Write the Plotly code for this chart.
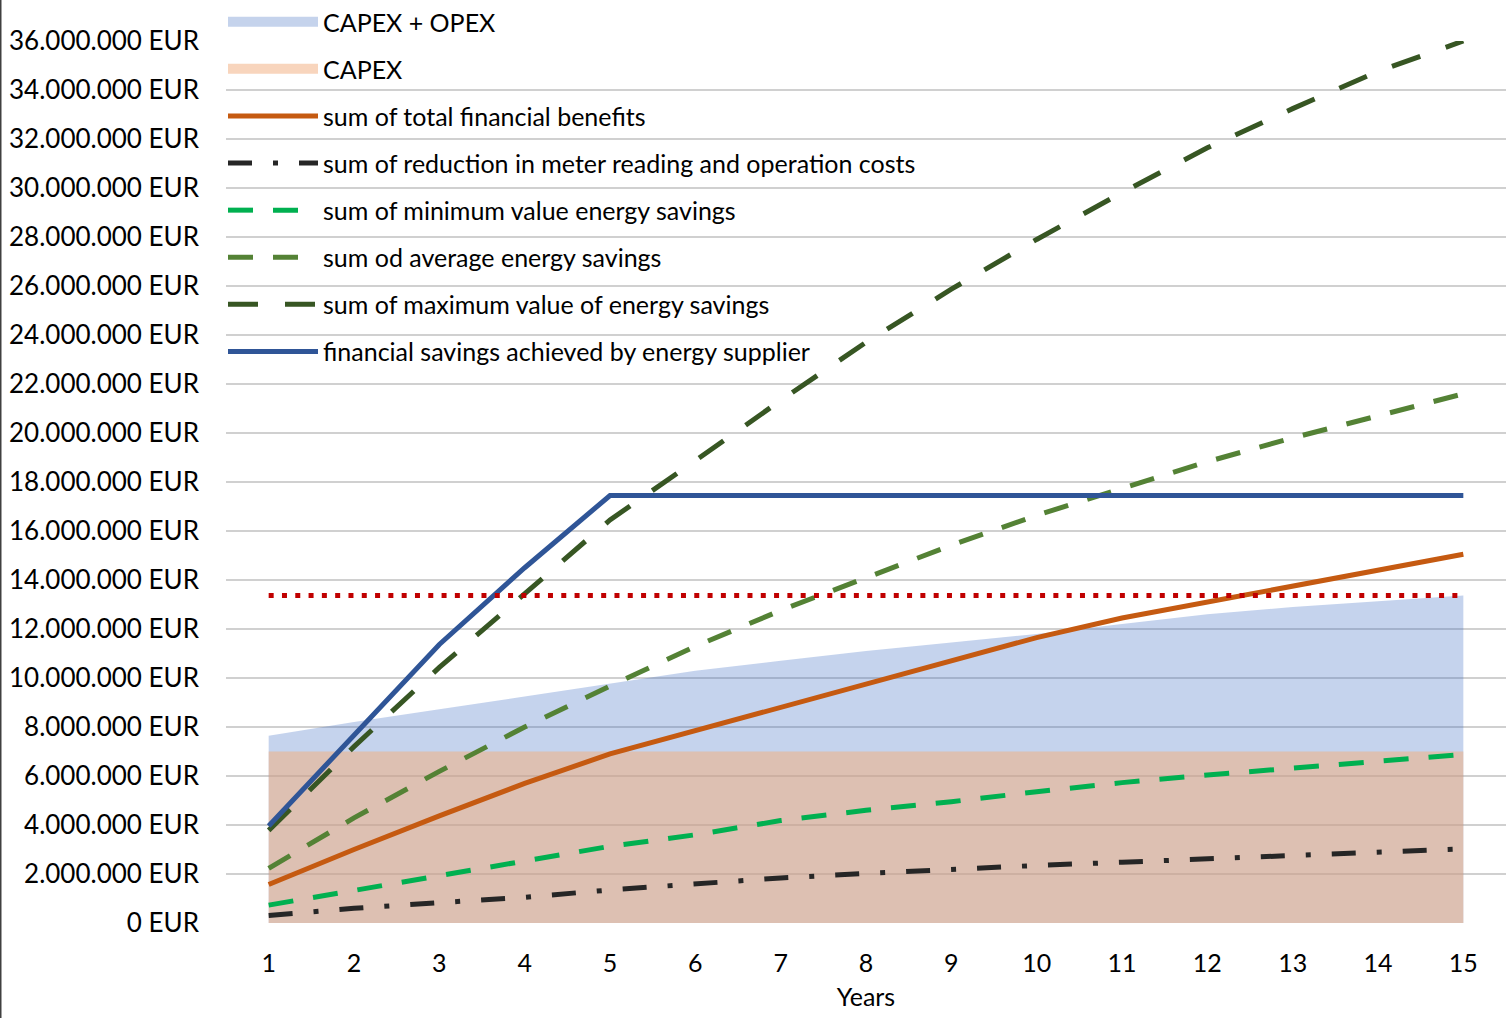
import plotly.graph_objects as go

years = list(range(1, 16))
capex_opex_m = [7.64, 8.2, 8.72, 9.25, 9.75, 10.3, 10.7, 11.1, 11.45, 11.8, 12.2, 12.6, 12.9, 13.15, 13.37]
capex_m = [7.0] * 15
total_benefits_m = [1.57, 3.0, 4.37, 5.7, 6.9, 7.85, 8.85, 9.75, 10.7, 11.65, 12.45, 13.1, 13.75, 14.4, 15.05]
meter_reduction_m = [0.31, 0.6, 0.83, 1.05, 1.35, 1.62, 1.84, 2.02, 2.2, 2.35, 2.48, 2.62, 2.76, 2.9, 3.03]
min_savings_m = [0.73, 1.33, 1.96, 2.54, 3.13, 3.6, 4.18, 4.6, 4.95, 5.36, 5.73, 6.04, 6.32, 6.62, 6.88]
avg_savings_m = [2.23, 4.29, 6.19, 8.0, 9.67, 11.29, 12.76, 14.1, 15.42, 16.64, 17.75, 18.83, 19.8, 20.7, 21.6]
max_savings_m = [3.78, 7.2, 10.43, 13.45, 16.45, 18.87, 21.33, 23.7, 25.87, 27.9, 29.81, 31.64, 33.24, 34.76, 36.0]
supplier_m = [3.96, 7.7, 11.37, 14.5, 17.45, 17.45, 17.45, 17.45, 17.45, 17.45, 17.45, 17.45, 17.45, 17.45, 17.45]
threshold_m = [13.37] * 15

tick_values_m = list(range(0, 37, 2))
tick_labels = [f"{v * 1000000:,}".replace(",", ".") + " EUR" for v in tick_values_m]


def eur(vals):
    return [v * 1e6 for v in vals]


FONT = "Lato"
BLUE_FILL = "rgba(68,114,196,0.31)"
ORANGE_FILL = "rgba(245,173,120,0.5)"
fig = go.Figure()

# areas (legend entries supplied by swatch-only traces below)
fig.add_trace(go.Scatter(x=years, y=eur(capex_opex_m), name="CAPEX + OPEX", mode="lines",
                         fill="tozeroy", fillcolor=BLUE_FILL, showlegend=False,
                         line=dict(width=0, color=BLUE_FILL), legendgroup="a"))
fig.add_trace(go.Scatter(x=years, y=eur(capex_m), name="CAPEX", mode="lines",
                         fill="tozeroy", fillcolor=ORANGE_FILL, showlegend=False,
                         line=dict(width=0, color=ORANGE_FILL), legendgroup="b"))
# legend swatches for the areas
fig.add_trace(go.Scatter(x=[None], y=[None], name="CAPEX + OPEX", mode="lines",
                         line=dict(width=15, color="#C5D3EC"), legendgroup="a", hoverinfo="skip"))
fig.add_trace(go.Scatter(x=[None], y=[None], name="CAPEX", mode="lines",
                         line=dict(width=15, color="#F8D5BD"), legendgroup="b", hoverinfo="skip"))

fig.add_trace(go.Scatter(x=years, y=eur(total_benefits_m), name="sum of total financial benefits",
                         mode="lines", line=dict(color="#C55A11", width=5), legendgroup="c"))
fig.add_trace(go.Scatter(x=years, y=eur(meter_reduction_m),
                         name="sum of reduction in meter reading and operation costs",
                         mode="lines", line=dict(color="#262626", width=5, dash="24px,21px,5px,21px"),
                         legendgroup="d"))
fig.add_trace(go.Scatter(x=years, y=eur(min_savings_m), name="sum of minimum value energy savings",
                         mode="lines", line=dict(color="#00B050", width=5, dash="25px,20px"), legendgroup="e"))
fig.add_trace(go.Scatter(x=years, y=eur(avg_savings_m), name="sum od average energy savings",
                         mode="lines", line=dict(color="#548235", width=5, dash="25px,20px"), legendgroup="f"))
fig.add_trace(go.Scatter(x=years, y=eur(max_savings_m), name="sum of maximum value of energy savings",
                         mode="lines", line=dict(color="#375623", width=5, dash="30px,27px"), legendgroup="g"))
fig.add_trace(go.Scatter(x=years, y=eur(supplier_m), name="financial savings achieved by energy supplier",
                         mode="lines", line=dict(color="#2F5597", width=5), legendgroup="h"))
fig.add_trace(go.Scatter(x=years, y=eur(threshold_m), name="threshold", showlegend=False,
                         mode="lines", line=dict(color="#C00000", width=5, dash="5px,8.3px")))

fig.update_layout(
    width=1506, height=1018,
    margin=dict(l=226, r=0, t=41, b=95, autoexpand=False),
    paper_bgcolor="white", plot_bgcolor="white",
    font=dict(family=FONT, size=24, color="#000000"),
    showlegend=True,
    legend=dict(x=-3 / 1280, xanchor="left", y=1 + 42 / 882, yanchor="top",
                bgcolor="rgba(0,0,0,0)", font=dict(family=FONT, size=25),
                tracegroupgap=11.6, itemwidth=90, traceorder="grouped"),
    xaxis=dict(range=[0.5, 15.5], tickmode="array", tickvals=years, ticktext=[str(y) for y in years],
               showgrid=False, zeroline=False, showline=False, ticks="",
               ticklabelstandoff=23, tickfont=dict(family=FONT, size=25),
               title=dict(text="Years", font=dict(family=FONT, size=25), standoff=12)),
    yaxis=dict(range=[0, 36e6], tickmode="array", tickvals=eur(tick_values_m), ticktext=tick_labels,
               showgrid=True, gridcolor="#D0D0D0", gridwidth=1.5, zeroline=False, showline=False,
               ticks="", ticklabelstandoff=26, tickfont=dict(family=FONT, size=26)),
    shapes=[dict(type="line", xref="paper", yref="paper", x0=-225.5 / 1280, x1=-225.5 / 1280,
                 y0=-95 / 882, y1=1 + 41 / 882, line=dict(color="#404040", width=2))],
)

fig.write_html("out.html")
